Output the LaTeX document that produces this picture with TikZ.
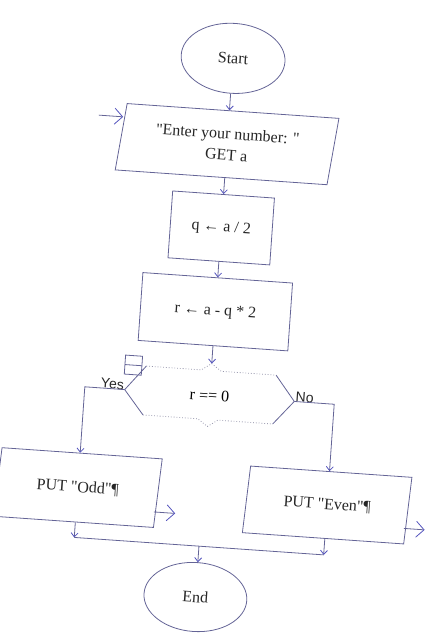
\documentclass[tikz,border=0pt]{standalone}
\usepackage{fontspec}
\setmainfont{Liberation Serif}
\newfontfamily\labelfont{Liberation Sans}
\usetikzlibrary{shapes.geometric,arrows.meta}
\definecolor{rapline}{RGB}{100,100,150}
\definecolor{raptip}{RGB}{85,85,190}
\definecolor{rapdot}{RGB}{150,150,172}
\newcommand{\qt}{\textquotedbl}
\begin{document}
\begin{tikzpicture}[x=1pt,y=1pt,font=\fontsize{16}{21}\selectfont,
    flow/.style={draw=rapline,line width=0.8pt,text=black!85},
    term/.style={flow,ellipse,minimum width=104pt,minimum height=70pt,inner sep=0pt},
    io/.style={flow,trapezium,trapezium left angle=81,trapezium right angle=99,
        trapezium stretches=true,minimum height=67pt,inner sep=0pt,align=center},
    asgn/.style={flow,rectangle,minimum height=67pt,inner sep=0pt},
    link/.style={draw=rapline,line width=0.8pt,-{Straight Barb[length=4pt,width=7pt,color=raptip]}},
    outarr/.style={draw=rapline,line width=0.8pt,-{Straight Barb[length=8pt,width=16pt,color=raptip]}},
    yesno/.style={inner sep=1pt,text=black!85,font=\labelfont\fontsize{14}{16}\selectfont}]
\useasboundingbox (-219,-318) rectangle (219,317);
\clip (-219,-318) rectangle (219,317);
\begin{scope}[rotate=-4,transform shape]
\node[term] (start) at (-4,259) {Start};
\node[io,minimum width=220pt] (enter) at (-4,173) {\qt Enter your number: \qt\\GET a};
\node[asgn,minimum width=102pt] (q) at (-4,89) {q ← a / 2};
\node[asgn,minimum width=150pt,minimum height=68pt] (r) at (-4,5) {r ← a - q * 2};
\node (dec) at (-4,-79) {r == 0};
\begin{scope}[shift={(-4,-79)}]
    \draw[flow] (-65,25) -- (-85,0) -- (-65,-24);
    \draw[flow] (65,25) -- (85,0) -- (65,-24);
    \draw[rapdot,dotted,line width=0.8pt] (-65,25) -- (-10,25) -- (0,32) -- (10,25) -- (65,25);
    \draw[rapdot,dotted,line width=0.8pt] (-65,-24) -- (-10,-24) -- (0,-31) -- (10,-24) -- (65,-24);
    \draw[flow] (-86.5,15.5) rectangle (-69.5,34.5);
    \draw[flow] (-86.5,25) -- (-69.5,25);
    \coordinate (decT) at (0,32);
    \coordinate (decL) at (-85,0);
    \coordinate (decR) at (85,0);
\end{scope}
\node[yesno,anchor=base east] (yes) at (decL) {Yes};
\node[yesno,anchor=base west] (no) at (decR) {No};
\node[io,minimum width=166pt,minimum height=69pt] (odd) at (-129,-180) {PUT \qt Odd\qt¶};
\node[io,minimum width=166pt] (even) at (121,-180) {PUT \qt Even\qt¶};
\node[term,minimum width=103pt,minimum height=69pt] (finish) at (-4,-281) {End};

\coordinate (entry) at (-134,193);
\coordinate (oddout) at (-30,-199);
\coordinate (evenout) at (220,-198);
\foreach \x/\n in {-129/joinL, 121/joinR, -4/joinM}
{
    \coordinate (\n) at (\x,-230);
}

\draw[outarr] (entry) -- ([shift={(1,20)}]enter.west);
\draw[link] (start) -- (enter);
\draw[link] (enter) -- (q);
\draw[link] (q) -- (r);
\draw[link] (r) -- (decT);
\draw[link] (decL) -| (odd.north);
\draw[link] (decR) -| (even.north);
\draw[outarr] ([shift={(-3,-19)}]odd.east) -- (oddout);
\draw[outarr] ([shift={(-3,-18)}]even.east) -- (evenout);
\draw[link] (odd.south) -- (joinL);
\draw[link] (even.south) -- (joinR);
\draw[flow] (joinL) -- (joinR);
\draw[link] (joinM) -- (finish);
\end{scope}
\end{tikzpicture}
\end{document}
